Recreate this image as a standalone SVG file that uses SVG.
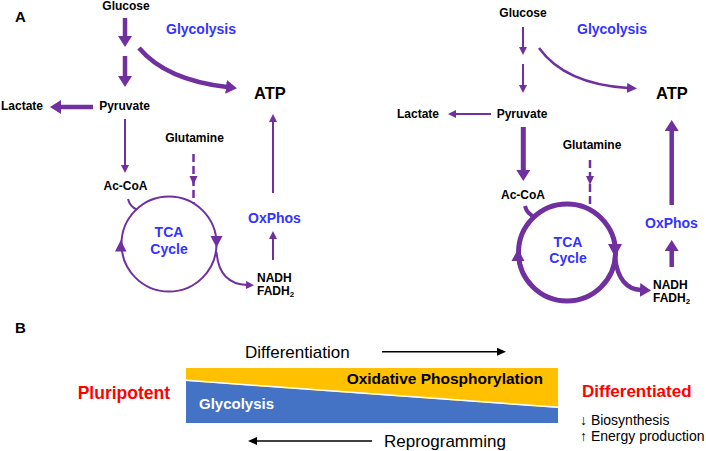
<svg xmlns="http://www.w3.org/2000/svg" width="706" height="451" viewBox="0 0 706 451">
<style>
text{font-family:"Liberation Sans",Arial,sans-serif}
.b{font-weight:bold}
.k{fill:#000}
.bl{fill:#3333ff;font-weight:bold;font-size:14px}
.m{font-size:12px;font-weight:bold;fill:#000}
.c{text-anchor:middle}
.p{fill:none;stroke:#7030a0}
.t2{stroke-width:2}
.t4{stroke-width:4.5}
.ph{fill:#7030a0}
.red{fill:#ff0000;font-weight:bold}
</style>
<defs>
<marker id="hL" markerUnits="userSpaceOnUse" markerWidth="12" markerHeight="14" refX="1" refY="7" orient="auto"><path d="M0,0 L11,7 L0,14 z" fill="#7030a0"/></marker>
<marker id="hS" markerUnits="userSpaceOnUse" markerWidth="9" markerHeight="9" refX="1" refY="4" orient="auto"><path d="M0,0 L8,4 L0,8 z" fill="#7030a0"/></marker>
<marker id="hM" markerUnits="userSpaceOnUse" markerWidth="11" markerHeight="10" refX="1" refY="5" orient="auto"><path d="M0,0 L10,5 L0,10 z" fill="#7030a0"/></marker>
<marker id="hK" markerUnits="userSpaceOnUse" markerWidth="10" markerHeight="9" refX="1" refY="4" orient="auto"><path d="M0,0 L9,4 L0,8 z" fill="#000"/></marker>
</defs>

<!-- Panel A labels -->
<text x="15" y="22" class="b" font-size="15">A</text>

<!-- Left panel nodes -->
<g id="L-glucose"><text x="126" y="10" class="m c">Glucose</text></g>
<g id="L-glycolysis"><text x="166" y="34" class="bl">Glycolysis</text></g>
<g id="L-atp"><text x="254" y="99" class="b" font-size="16.5">ATP</text></g>
<g id="L-lactate"><text x="1" y="110" class="m">Lactate</text></g>
<g id="L-pyruvate"><text x="124.5" y="110" class="m c">Pyruvate</text></g>
<g id="L-glutamine"><text x="194.5" y="142" class="m c" font-size="13">Glutamine</text></g>
<g id="L-accoa"><text x="125.5" y="190" class="m c">Ac-CoA</text></g>
<g id="L-tca">
<circle cx="169" cy="244" r="47.5" class="p t2"/>
<polygon points="210.5,236 222.5,236 216.5,247.5" class="ph"/>
<polygon points="115,251.5 126.5,251.5 120.8,240" class="ph"/>
<text x="169" y="237" class="bl c">TCA</text>
<text x="169" y="253.5" class="bl c">Cycle</text>
</g>
<g id="L-oxphos"><text x="248" y="223" class="bl">OxPhos</text></g>
<g id="L-nadh"><text x="257" y="282" class="m">NADH</text><text x="257" y="295" class="m">FADH<tspan font-size="8" dy="2">2</tspan></text></g>

<!-- Right panel nodes -->
<g id="R-glucose"><text x="523" y="17" class="m c">Glucose</text></g>
<g id="R-glycolysis"><text x="577" y="34" class="bl">Glycolysis</text></g>
<g id="R-atp"><text x="656" y="99" class="b" font-size="16.5">ATP</text></g>
<g id="R-lactate"><text x="418" y="118" class="m c">Lactate</text></g>
<g id="R-pyruvate"><text x="522" y="118" class="m c">Pyruvate</text></g>
<g id="R-glutamine"><text x="592" y="149" class="m c" font-size="13">Glutamine</text></g>
<g id="R-accoa"><text x="523" y="199" class="m c">Ac-CoA</text></g>
<g id="R-tca">
<circle cx="567" cy="252.5" r="48.5" class="p" stroke-width="5"/>
<polygon points="608,244 622,244 615,257" class="ph"/>
<polygon points="511.5,261 524.5,261 518,249" class="ph"/>
<text x="568" y="246.5" class="bl c">TCA</text>
<text x="568" y="263" class="bl c">Cycle</text>
</g>
<g id="R-oxphos"><text x="645" y="228" class="bl">OxPhos</text></g>
<g id="R-nadh"><text x="653" y="289" class="m">NADH</text><text x="653" y="302" class="m">FADH<tspan font-size="8" dy="2">2</tspan></text></g>

<!-- Connectors -->
<g id="connectors">
<!-- left -->
<path d="M125,18 V37" class="p t4" marker-end="url(#hL)"/>
<path d="M125,56 V77" class="p t4" marker-end="url(#hL)"/>
<path d="M139,48 Q166,80 227,87" class="p t4" marker-end="url(#hL)"/>
<path d="M93,107 H60" class="p t4" marker-end="url(#hL)"/>
<path d="M125,119 V166" class="p t2" marker-end="url(#hS)"/>
<path d="M273,193 V121" class="p t2" marker-end="url(#hS)"/>
<path d="M273,260 V238" class="p t2" marker-end="url(#hS)"/>
<path d="M216.5,252 Q219,284 247,285" class="p t2" marker-end="url(#hS)"/>
<path d="M128,199 Q130,207 137,209.5" class="p t2"/>
<path d="M193.5,154 V204" class="p" stroke-width="2.5" stroke-dasharray="8,4"/>
<polygon points="189.5,176 197.5,176 193.5,185" class="ph"/>
<!-- right -->
<path d="M523,27 V48" class="p t2" marker-end="url(#hS)"/>
<path d="M523,64 V86" class="p t2" marker-end="url(#hS)"/>
<path d="M539,48 Q565,84 628,88" class="p" stroke-width="2.5" marker-end="url(#hM)"/>
<path d="M491,114 H455" class="p t2" marker-end="url(#hS)"/>
<path d="M523.3,127 V171" class="p" stroke-width="5" marker-end="url(#hL)"/>
<path d="M671.7,205 V130" class="p t4" marker-end="url(#hL)"/>
<path d="M671.7,267 V250" class="p t4" marker-end="url(#hL)"/>
<path d="M615,258 Q619,289 641,290" class="p t4" marker-end="url(#hL)"/>
<path d="M525,206 Q527,214 535,217" class="p" stroke-width="4"/>
<path d="M590,160 V208" class="p" stroke-width="2.5" stroke-dasharray="8,4"/>
<polygon points="586,176 594,176 590,185" class="ph"/>
<!-- panel B arrows -->
<path d="M382,351.7 H498" stroke="#000" stroke-width="1.5" marker-end="url(#hK)"/>
<path d="M372,441 H256" stroke="#000" stroke-width="1.5" marker-end="url(#hK)"/>
</g>

<!-- Panel B -->
<text x="15" y="333" class="b" font-size="15">B</text>
<g id="B-band">
<rect x="186" y="368" width="372" height="55" fill="#ffc000"/>
<polygon points="186,381 558,408 558,423 186,423" fill="#4472c4"/>
<line x1="186" y1="380.3" x2="558" y2="407.3" stroke="#fff" stroke-width="1.5"/>
<text x="543" y="384" class="b k" font-size="15.5" text-anchor="end">Oxidative Phosphorylation</text>
<text x="199" y="409" class="b" font-size="15" fill="#fff">Glycolysis</text>
</g>
<g id="B-diff"><text x="245" y="358" font-size="17" class="k">Differentiation</text></g>
<g id="B-reprog"><text x="384" y="447" font-size="17" class="k">Reprogramming</text></g>
<g id="B-pluri"><text x="77.7" y="399" class="red" font-size="17.5">Pluripotent</text></g>
<g id="B-differentiated">
<text x="582" y="397" class="red" font-size="17">Differentiated</text>
<text x="580" y="425" font-size="14" class="k">↓ Biosynthesis</text>
<text x="580" y="441" font-size="14" class="k">↑ Energy production</text>
</g>
</svg>
